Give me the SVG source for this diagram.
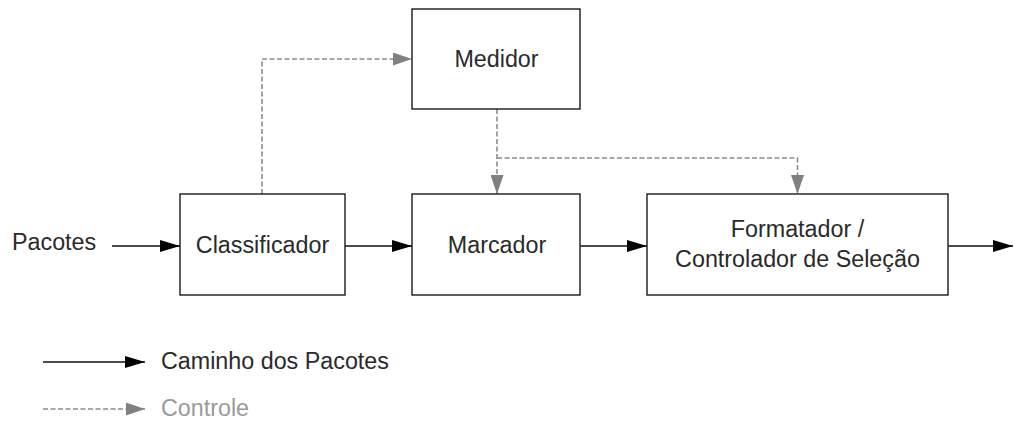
<svg xmlns="http://www.w3.org/2000/svg" width="1014" height="421" viewBox="0 0 1014 421">
  <style>
    .box { fill: #ffffff; stroke: #1a1a1a; stroke-width: 1.4; }
    .lbl { font-family: "Liberation Sans", Arial, sans-serif; font-size: 23.3px; fill: #2a2a2a; }
    .mid { text-anchor: middle; }
    .muted { fill: #9a9a9a; }
    .flow { fill: none; stroke: #111111; stroke-width: 1.4; marker-end: url(#headBlack); }
    .ctrl { fill: none; stroke: #8c8c8c; stroke-width: 1.6; stroke-dasharray: 5 2.5; marker-end: url(#headGrey); }
  </style>
  <defs>
    <marker id="headBlack" markerUnits="userSpaceOnUse" markerWidth="20" markerHeight="12" refX="20" refY="6" orient="auto">
      <path d="M0,0 L20,6 L0,12 Z" fill="#000000"/>
    </marker>
    <marker id="headGrey" markerUnits="userSpaceOnUse" markerWidth="19" markerHeight="13" refX="19" refY="6.5" orient="auto">
      <path d="M0,0 L19,6.5 L0,13 Z" fill="#808080"/>
    </marker>
  </defs>

  <rect width="1014" height="421" fill="#ffffff"/>

  <!-- connectors -->
  <g id="connectors">
    <path class="flow" d="M112,246 H180"/>
    <path class="flow" d="M345,246 H412"/>
    <path class="flow" d="M580,246 H647"/>
    <path class="flow" d="M948,246 H1013"/>
    <path class="ctrl" d="M262,194 V59 H412"/>
    <path class="ctrl" d="M497,109 V194"/>
    <path class="ctrl" d="M497,158 H797.5 V194"/>
  </g>

  <text class="lbl" x="12" y="249.5">Pacotes</text>

  <g id="classificador">
    <rect class="box" x="180" y="194" width="165" height="101"/>
    <text class="lbl mid" x="262.5" y="252.5">Classificador</text>
  </g>

  <g id="medidor">
    <rect class="box" x="412" y="9" width="168" height="100"/>
    <text class="lbl mid" x="496.5" y="66.5">Medidor</text>
  </g>

  <g id="marcador">
    <rect class="box" x="412" y="194" width="168" height="101"/>
    <text class="lbl mid" x="497" y="252.5">Marcador</text>
  </g>

  <g id="formatador">
    <rect class="box" x="647" y="194" width="301" height="101"/>
    <text class="lbl mid" x="797.5" y="237">Formatador /</text>
    <text class="lbl mid" x="797.5" y="267">Controlador de Seleção</text>
  </g>

  <!-- legend -->
  <g id="legend">
    <path class="flow" d="M43,362 H145"/>
    <text class="lbl" x="161" y="368.5">Caminho dos Pacotes</text>
    <path class="ctrl" d="M43,409 H145"/>
    <text class="lbl muted" x="161" y="416">Controle</text>
  </g>
</svg>
